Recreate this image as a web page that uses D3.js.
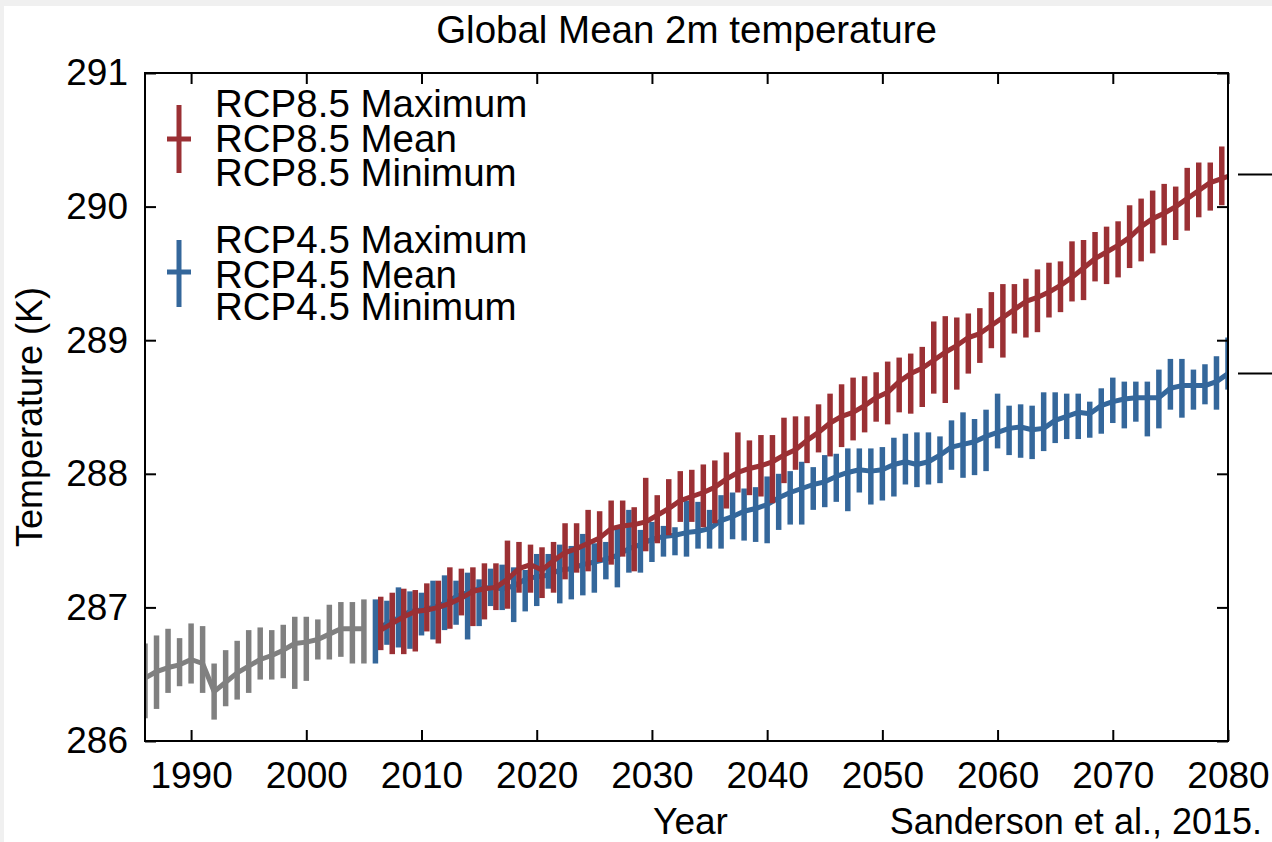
<!DOCTYPE html>
<html>
<head>
<meta charset="utf-8">
<script src="https://cdn.jsdelivr.net/npm/d3@7"></script>
<style>
  html, body { margin: 0; padding: 0; background: #f0f0f0; }
  svg { display: block; }
  text { font-family: "Liberation Sans", Arial, sans-serif; fill: #000; }
</style>
</head>
<body>
<svg id="chart" width="1272" height="842"></svg>
<script>
// ---- data: global mean 2 m temperature (K) ----
const histStart = 1986;
const histMean = [286.47, 286.52, 286.55, 286.57, 286.61, 286.58, 286.37, 286.44, 286.51, 286.56,
                  286.61, 286.64, 286.68, 286.73, 286.74, 286.76, 286.80, 286.84, 286.84, 286.84];
const histMax  = [286.73, 286.79, 286.84, 286.77, 286.88, 286.86, 286.58, 286.68, 286.75, 286.83,
                  286.85, 286.83, 286.87, 286.93, 286.93, 286.91, 287.02, 287.04, 287.04, 287.06];
const histMin  = [286.17, 286.24, 286.36, 286.41, 286.43, 286.36, 286.16, 286.26, 286.31, 286.36,
                  286.46, 286.46, 286.47, 286.39, 286.45, 286.61, 286.61, 286.63, 286.58, 286.58];

const scenStart = 2006;
const rcp85Mean = [286.83, 286.88, 286.93, 286.97, 286.98, 287.00, 287.03, 287.07, 287.12, 287.14,
                   287.15, 287.21, 287.29, 287.32, 287.28, 287.35, 287.41, 287.44, 287.48, 287.52,
                   287.59, 287.61, 287.62, 287.64, 287.69, 287.74, 287.80, 287.83, 287.86, 287.90,
                   287.96, 288.01, 288.04, 288.06, 288.09, 288.14, 288.18, 288.25, 288.31, 288.38,
                   288.43, 288.46, 288.51, 288.57, 288.61, 288.69, 288.75, 288.79, 288.85, 288.91,
                   288.96, 289.02, 289.05, 289.11, 289.17, 289.23, 289.29, 289.32, 289.36, 289.41,
                   289.47, 289.54, 289.61, 289.66, 289.71, 289.77, 289.85, 289.91, 289.95, 290.00,
                   290.06, 290.12, 290.18, 290.21, 290.24];
const rcp85Max  = [287.08, 287.11, 287.14, 287.13, 287.18, 287.20, 287.30, 287.29, 287.30, 287.33,
                   287.33, 287.50, 287.49, 287.47, 287.45, 287.49, 287.63, 287.63, 287.73, 287.72,
                   287.80, 287.80, 287.75, 287.97, 287.84, 287.96, 288.02, 288.03, 288.07, 288.10,
                   288.16, 288.31, 288.25, 288.29, 288.29, 288.42, 288.43, 288.43, 288.52, 288.60,
                   288.67, 288.72, 288.73, 288.76, 288.84, 288.87, 288.90, 288.95, 289.14, 289.18,
                   289.17, 289.20, 289.24, 289.36, 289.42, 289.42, 289.46, 289.53, 289.58, 289.59,
                   289.74, 289.75, 289.81, 289.85, 289.89, 290.01, 290.06, 290.12, 290.17, 290.15,
                   290.29, 290.33, 290.33, 290.45, 290.50];
const rcp85Min  = [286.68, 286.65, 286.65, 286.67, 286.82, 286.73, 286.84, 286.94, 286.86, 286.91,
                   286.98, 286.99, 287.11, 287.11, 287.07, 287.11, 287.21, 287.26, 287.27, 287.34,
                   287.32, 287.38, 287.27, 287.42, 287.48, 287.54, 287.64, 287.64, 287.60, 287.63,
                   287.74, 287.86, 287.84, 287.83, 287.78, 287.93, 288.03, 288.08, 288.16, 288.13,
                   288.20, 288.25, 288.31, 288.39, 288.37, 288.46, 288.45, 288.50, 288.60, 288.53,
                   288.63, 288.75, 288.83, 288.94, 288.87, 289.05, 289.02, 289.06, 289.17, 289.21,
                   289.29, 289.30, 289.44, 289.42, 289.47, 289.54, 289.59, 289.65, 289.71, 289.75,
                   289.82, 289.92, 289.97, 290.01, 290.05];

const rcp45Mean = [286.83, 286.88, 286.92, 286.97, 286.98, 287.00, 287.03, 287.08, 287.11, 287.14,
                   287.15, 287.14, 287.16, 287.21, 287.23, 287.24, 287.28, 287.29, 287.32, 287.34,
                   287.36, 287.39, 287.44, 287.47, 287.51, 287.53, 287.54, 287.56, 287.57, 287.59,
                   287.65, 287.68, 287.72, 287.74, 287.77, 287.82, 287.86, 287.89, 287.92, 287.94,
                   287.98, 288.01, 288.03, 288.02, 288.03, 288.07, 288.09, 288.07, 288.09, 288.14,
                   288.20, 288.22, 288.24, 288.28, 288.31, 288.34, 288.35, 288.33, 288.34, 288.40,
                   288.43, 288.46, 288.45, 288.51, 288.54, 288.56, 288.57, 288.57, 288.57, 288.64,
                   288.66, 288.66, 288.66, 288.69, 288.75];
const rcp45Max  = [287.06, 287.05, 287.15, 287.12, 287.11, 287.20, 287.24, 287.20, 287.26, 287.21,
                   287.29, 287.32, 287.30, 287.28, 287.40, 287.40, 287.47, 287.46, 287.55, 287.48,
                   287.49, 287.60, 287.73, 287.58, 287.64, 287.61, 287.60, 287.80, 287.79, 287.73,
                   287.84, 287.86, 287.89, 287.90, 287.98, 288.00, 288.02, 288.09, 288.05, 288.14,
                   288.15, 288.19, 288.19, 288.19, 288.20, 288.27, 288.30, 288.31, 288.31, 288.28,
                   288.40, 288.46, 288.41, 288.48, 288.60, 288.51, 288.52, 288.51, 288.61, 288.61,
                   288.60, 288.60, 288.54, 288.64, 288.72, 288.69, 288.69, 288.69, 288.78, 288.86,
                   288.86, 288.78, 288.82, 288.88, 289.02];
const rcp45Min  = [286.58, 286.72, 286.70, 286.69, 286.79, 286.76, 286.83, 286.87, 286.76, 286.86,
                   287.01, 286.98, 286.89, 286.97, 287.01, 287.14, 287.03, 287.06, 287.09, 287.11,
                   287.21, 287.15, 287.26, 287.26, 287.34, 287.38, 287.39, 287.38, 287.44, 287.44,
                   287.44, 287.51, 287.50, 287.49, 287.48, 287.58, 287.62, 287.62, 287.73, 287.75,
                   287.79, 287.72, 287.86, 287.77, 287.80, 287.83, 287.92, 287.90, 287.92, 287.93,
                   288.03, 287.97, 287.99, 288.02, 288.19, 288.14, 288.12, 288.11, 288.17, 288.23,
                   288.26, 288.26, 288.27, 288.30, 288.38, 288.34, 288.39, 288.28, 288.34, 288.48,
                   288.42, 288.48, 288.52, 288.48, 288.63];

const xTicks = [1990, 2000, 2010, 2020, 2030, 2040, 2050, 2060, 2070, 2080];
const yTicks = [286, 287, 288, 289, 290, 291];
const legend85 = ["RCP8.5 Maximum", "RCP8.5 Mean", "RCP8.5 Minimum"];
const legend45 = ["RCP4.5 Maximum", "RCP4.5 Mean", "RCP4.5 Minimum"];

// ---- layout ----
const W = 1272, H = 842;
const plot = { left: 145, right: 1228, top: 73, bottom: 741 };
const COLORS = { hist: "#808080", rcp85: "#9b3034", rcp45: "#34679b" };

const svg = d3.select("#chart");
svg.append("rect").attr("x", 4).attr("y", 6).attr("width", W - 4).attr("height", H - 6).attr("fill", "#fff");

const x = d3.scaleLinear().domain([1986, 2080]).range([plot.left, plot.right]);
const y = d3.scaleLinear().domain([286, 291]).range([plot.bottom, plot.top]);

svg.append("clipPath").attr("id", "plotClip")
  .append("rect")
  .attr("x", plot.left).attr("y", plot.top)
  .attr("width", plot.right - plot.left).attr("height", plot.bottom - plot.top);

const marks = svg.append("g").attr("clip-path", "url(#plotClip)");

// one series: vertical min–max bars plus a mean line
function drawSeries(start, mean, lo, hi, color, shift) {
  const rows = mean.map((m, i) => ({ year: start + i, mean: m, min: lo[i], max: hi[i] }));
  const g = marks.append("g");
  g.selectAll("line")
    .data(rows)
    .join("line")
    .attr("x1", d => x(d.year + shift))
    .attr("x2", d => x(d.year + shift))
    .attr("y1", d => y(d.min))
    .attr("y2", d => y(d.max))
    .attr("stroke", color)
    .attr("stroke-width", 5.5);
  g.append("path")
    .datum(rows)
    .attr("fill", "none")
    .attr("stroke", color)
    .attr("stroke-width", 5)
    .attr("stroke-linejoin", "round")
    .attr("d", d3.line().x(d => x(d.year + shift)).y(d => y(d.mean)));
}

drawSeries(histStart, histMean, histMin, histMax, COLORS.hist, 0);
drawSeries(scenStart, rcp45Mean, rcp45Min, rcp45Max, COLORS.rcp45, 0);
drawSeries(scenStart, rcp85Mean, rcp85Min, rcp85Max, COLORS.rcp85, 0.46);

// ---- axes (ticks point inward on all four sides) ----
const fmt = d3.format("d");
const TICK = 11;

const bottomAxis = svg.append("g")
  .attr("transform", `translate(0,${plot.bottom})`)
  .call(d3.axisBottom(x).tickValues(xTicks).tickFormat(fmt).tickSizeInner(-TICK).tickSizeOuter(0).tickPadding(21));
const leftAxis = svg.append("g")
  .attr("transform", `translate(${plot.left},0)`)
  .call(d3.axisLeft(y).tickValues(yTicks).tickFormat(fmt).tickSizeInner(-TICK).tickSizeOuter(0).tickPadding(17));
const topAxis = svg.append("g")
  .attr("transform", `translate(0,${plot.top})`)
  .call(d3.axisTop(x).tickValues(xTicks).tickFormat("").tickSizeInner(-TICK).tickSizeOuter(0));
const rightAxis = svg.append("g")
  .attr("transform", `translate(${plot.right},0)`)
  .call(d3.axisRight(y).tickValues(yTicks).tickFormat("").tickSizeInner(-TICK).tickSizeOuter(0));

[bottomAxis, leftAxis, topAxis, rightAxis].forEach(a => {
  a.select(".domain").remove();
  a.selectAll(".tick line").attr("stroke", "#000").attr("stroke-width", 2);
  a.selectAll(".tick text")
    .attr("font-family", '"Liberation Sans", Arial, sans-serif')
    .attr("font-size", 37)
    .attr("fill", "#000");
});

svg.append("rect")
  .attr("x", plot.left).attr("y", plot.top)
  .attr("width", plot.right - plot.left).attr("height", plot.bottom - plot.top)
  .attr("fill", "none").attr("stroke", "#000").attr("stroke-width", 2);

// end-of-period mean markers outside the frame
const endMarks = [rcp85Mean[rcp85Mean.length - 1], rcp45Mean[rcp45Mean.length - 1]];
svg.selectAll("line.endmark")
  .data(endMarks)
  .join("line")
  .attr("class", "endmark")
  .attr("x1", 1238).attr("x2", W)
  .attr("y1", d => y(d)).attr("y2", d => y(d))
  .attr("stroke", "#000").attr("stroke-width", 2);

// ---- titles ----
svg.append("text")
  .attr("x", (plot.left + plot.right) / 2).attr("y", 43)
  .attr("text-anchor", "middle").attr("font-size", 38.5)
  .text("Global Mean 2m temperature");

svg.append("text")
  .attr("x", (plot.left + plot.right) / 2 + 4).attr("y", 834)
  .attr("text-anchor", "middle").attr("font-size", 37)
  .text("Year");

svg.append("text")
  .attr("x", 1262).attr("y", 834)
  .attr("text-anchor", "end").attr("font-size", 36)
  .text("Sanderson et al., 2015.");

svg.append("text")
  .attr("transform", "translate(42,417) rotate(-90)")
  .attr("text-anchor", "middle").attr("font-size", 36)
  .text("Temperature (K)");

// ---- legend ----
function legendBlock(labels, color, crossTop, crossBottom, crossMid, baselines) {
  const g = svg.append("g");
  g.append("line").attr("x1", 179).attr("x2", 179).attr("y1", crossTop).attr("y2", crossBottom)
    .attr("stroke", color).attr("stroke-width", 5);
  g.append("line").attr("x1", 167).attr("x2", 191).attr("y1", crossMid).attr("y2", crossMid)
    .attr("stroke", color).attr("stroke-width", 5);
  g.selectAll("text")
    .data(labels)
    .join("text")
    .attr("x", 215)
    .attr("y", (d, i) => baselines[i])
    .attr("font-size", 38.5)
    .text(d => d);
}
legendBlock(legend85, COLORS.rcp85, 105, 173, 139, [116.5, 151.5, 186]);
legendBlock(legend45, COLORS.rcp45, 240, 307, 272, [253, 287.5, 320]);
</script>
</body>
</html>
